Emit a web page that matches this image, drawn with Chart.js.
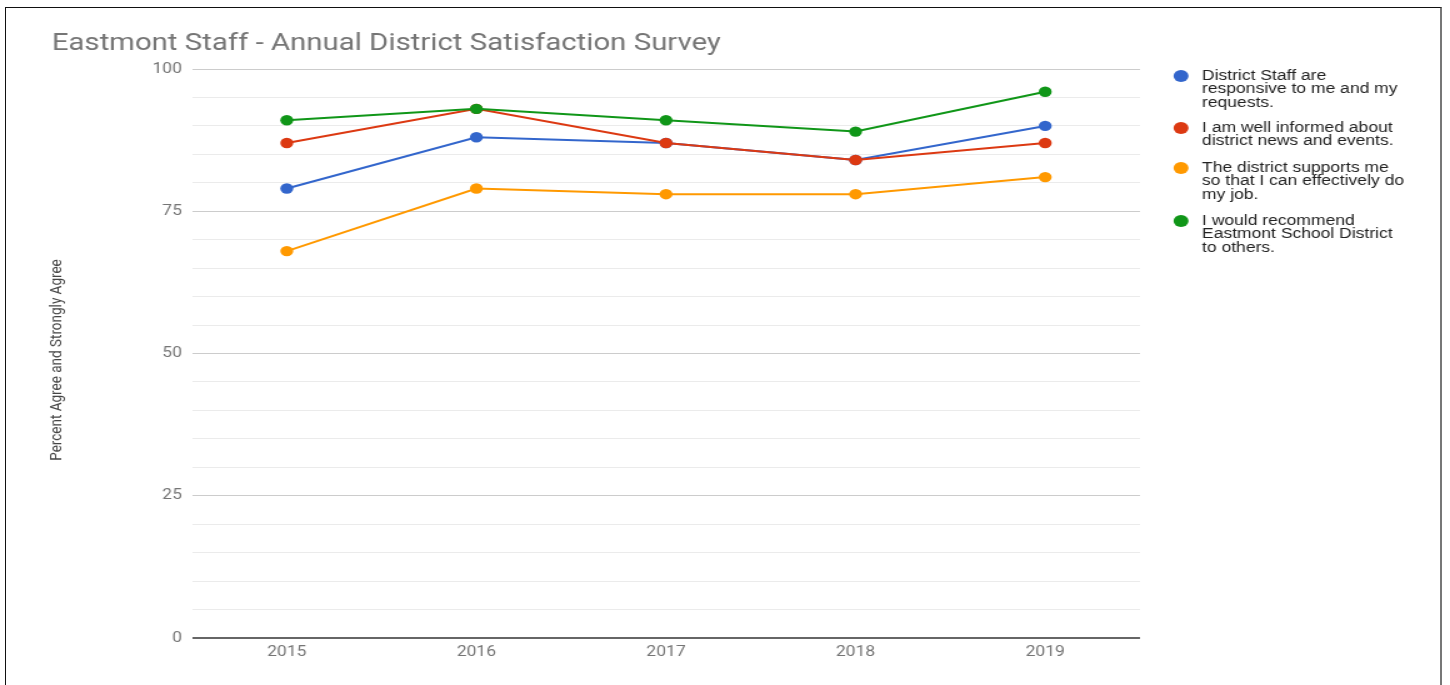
<!DOCTYPE html>
<html>
<head>
<meta charset="utf-8">
<script src="https://cdn.jsdelivr.net/npm/chart.js@4/dist/chart.umd.min.js"></script>
<style>
  html, body { margin: 0; padding: 0; background: #fff; width: 1450px; height: 685px; overflow: hidden; }
  #frame { position: absolute; left: 5px; top: 7px; width: 1437px; height: 700px;
           border-top: 1.5px solid #111; border-left: 1.5px solid #111; border-right: 2px solid #777; box-sizing: border-box; }
  #wrap { position: absolute; left: 0; top: 0; width: 1160px; height: 685px;
          transform: scaleX(1.25); transform-origin: 0 0; }
</style>
</head>
<body>
<div id="frame"></div>
<div id="wrap"><canvas id="c"></canvas></div>
<script>
const chartTitle = 'Eastmont Staff - Annual District Satisfaction Survey';
const yAxisTitle = 'Percent Agree and Strongly Agree';
const categories = ['2015', '2016', '2017', '2018', '2019'];
const seriesNames = [
  'District Staff are responsive to me and my requests.',
  'I am well informed about district news and events.',
  'The district supports me so that I can effectively do my job.',
  'I would recommend Eastmont School District to others.'
];
const legendLines = [
  ['District Staff are', 'responsive to me and my', 'requests.'],
  ['I am well informed about', 'district news and events.'],
  ['The district supports me', 'so that I can effectively do', 'my job.'],
  ['I would recommend', 'Eastmont School District', 'to others.']
];
const responsiveValues = [79, 88, 87, 84, 90];
const informedValues   = [87, 93, 87, 84, 87];
const supportsValues   = [68, 79, 78, 78, 81];
const recommendValues  = [91, 93, 91, 89, 96];
const seriesColors = ['#3366cc', '#dc3912', '#ff9900', '#109618'];
const yMin = 0, yMax = 100, yStep = 5, yLabelStep = 25;

const allValues = [responsiveValues, informedValues, supportsValues, recommendValues];

const datasets = allValues.map((vals, i) => ({
  label: seriesNames[i],
  data: vals,
  borderColor: seriesColors[i],
  backgroundColor: seriesColors[i],
  pointBackgroundColor: seriesColors[i],
  pointBorderColor: seriesColors[i],
  pointBorderWidth: 0,
  pointRadius: 5.2,
  pointHoverRadius: 5.2,
  borderWidth: 2,
  tension: 0,
  fill: false,
  order: allValues.length - i
}));

const decorPlugin = {
  id: 'decor',
  afterDraw(chart) {
    const ctx = chart.ctx;
    ctx.save();
    // title
    ctx.fillStyle = '#757575';
    ctx.font = '23.5px Roboto';
    ctx.textBaseline = 'alphabetic';
    ctx.textAlign = 'left';
    ctx.fillText(chartTitle, 41.4, 50);
    // y axis title
    ctx.save();
    ctx.translate(45.3, 360);
    ctx.rotate(-Math.PI / 2);
    ctx.fillStyle = '#444';
    ctx.font = '13.5px Roboto';
    ctx.textAlign = 'center';
    ctx.textBaseline = 'middle';
    ctx.fillText(yAxisTitle, 0, 0);
    ctx.restore();
    // legend
    const ca = chart.chartArea;
    const lx = ca.right + 32.8;
    const tx = ca.right + 49.6;
    const starts = [76, 128, 168, 221];
    const lh = 13.5;
    ctx.font = '14px "Liberation Sans", Arial, sans-serif';
    ctx.textBaseline = 'middle';
    ctx.textAlign = 'left';
    legendLines.forEach((lines, i) => {
      const y0 = starts[i];
      ctx.fillStyle = seriesColors[i];
      ctx.beginPath();
      ctx.arc(lx, y0, 6, 0, Math.PI * 2);
      ctx.fill();
      ctx.fillStyle = '#222';
      lines.forEach((t, j) => ctx.fillText(t, tx, y0 + j * lh));
    });
    ctx.restore();
  }
};

new Chart(document.getElementById('c'), {
  type: 'line',
  data: { labels: categories, datasets },
  options: {
    responsive: true,
    maintainAspectRatio: false,
    animation: false,
    events: [],
    layout: { padding: { left: 34, right: 248, top: 69, bottom: 0 } },
    plugins: { legend: { display: false }, tooltip: { enabled: false }, title: { display: false } },
    scales: {
      x: {
        offset: true,
        grid: { display: false, drawTicks: false },
        border: { display: false },
        ticks: { color: '#757575', font: { family: 'Roboto', size: 14 }, padding: 6, maxRotation: 0 },
        afterFit(s) { s.height = 47; }
      },
      y: {
        min: yMin, max: yMax,
        grid: {
          drawTicks: false,
          color: c => c.tick.value === 0 ? '#666' : (c.tick.value % yLabelStep === 0 ? '#cccccc' : '#ebebeb'),
          lineWidth: c => c.tick.value === 0 ? 2 : 1
        },
        border: { display: false },
        ticks: {
          stepSize: yStep,
          autoSkip: false,
          color: '#757575',
          font: { family: 'Roboto', size: 14 },
          padding: 8,
          callback: v => (v % yLabelStep === 0 ? v : '')
        },
        title: { display: false },
        afterFit(s) { s.width = 153.6 - 34; }
      }
    }
  },
  plugins: [decorPlugin]
});
</script>
</body>
</html>
